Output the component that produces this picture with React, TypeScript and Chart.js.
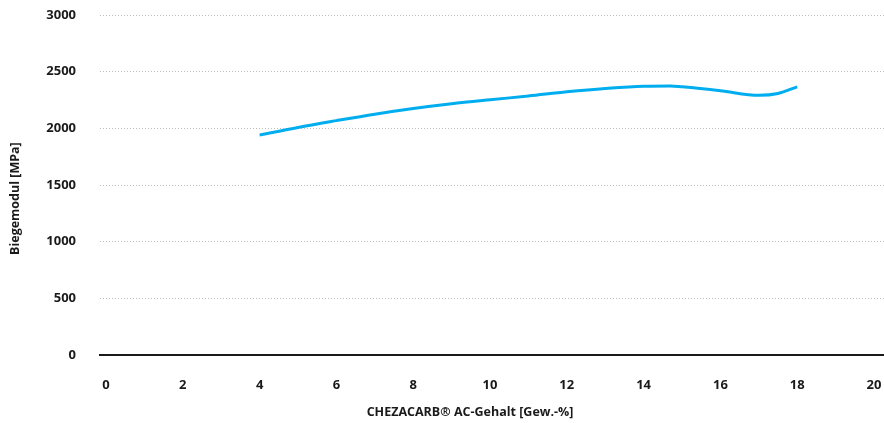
import React, { useEffect, useRef } from "react";
import { Chart, registerables } from "chart.js";

Chart.register(...registerables);

const xValues = [4, 5, 6, 7, 8, 9, 10, 11, 12, 13, 14, 14.7, 15, 16, 17, 17.5, 18];
const yValues = [1940, 2008, 2068, 2125, 2175, 2217, 2252, 2285, 2322, 2352, 2372, 2374, 2366, 2332, 2292, 2308, 2366];
const xTickValues = [0, 2, 4, 6, 8, 10, 12, 14, 16, 18, 20];
const yTickValues = [0, 500, 1000, 1500, 2000, 2500, 3000];
const xTitle = "CHEZACARB® AC-Gehalt [Gew.-%]";
const yTitle = "Biegemodul [MPa]";

const FONT = "'Open Sans', 'DejaVu Sans', sans-serif";

const titlePlugin = {
  id: "customTitles",
  afterDraw(chart: any) {
    const { ctx, chartArea } = chart;
    ctx.save();
    ctx.fillStyle = "#1a1a1a";
    ctx.font = `bold 12.5px ${FONT}`;
    ctx.textAlign = "center";
    ctx.textBaseline = "middle";
    ctx.fillText(xTitle, chartArea.left + (chartArea.right - chartArea.left) * 0.472, 412);
    ctx.translate(15, chartArea.top + (chartArea.bottom - chartArea.top) * 0.54);
    ctx.rotate(-Math.PI / 2);
    ctx.fillText(yTitle, 0, 0);
    ctx.restore();
  },
};

export default function App() {
  const ref = useRef<HTMLCanvasElement>(null);
  useEffect(() => {
    document.body.style.margin = "0";
    const chart = new Chart(ref.current!, {
      type: "line",
      data: {
        datasets: [
          {
            data: xValues.map((x, i) => ({ x, y: yValues[i] })),
            borderColor: "#00aeef",
            borderWidth: 3,
            pointRadius: 0,
            tension: 0.4,
            cubicInterpolationMode: "monotone",
            fill: false,
          },
        ],
      },
      plugins: [titlePlugin],
      options: {
        animation: false,
        responsive: false,
        maintainAspectRatio: false,
        layout: { padding: { top: 15, right: 0, left: 0, bottom: 0 } },
        plugins: { legend: { display: false }, tooltip: { enabled: false } },
        scales: {
          x: {
            type: "linear",
            min: -0.156,
            max: 20.26,
            afterBuildTicks: (scale: any) => {
              scale.ticks = xTickValues.map((v) => ({ value: v }));
            },
            afterFit: (scale: any) => {
              scale.height = 68;
              scale.paddingLeft = 0;
              scale.paddingRight = 0;
            },
            grid: { display: false, drawTicks: false },
            border: { display: true, color: "#1a1a1a", width: 2 },
            ticks: {
              padding: 22,
              color: "#1a1a1a",
              font: { family: FONT, size: 13, weight: "bold" },
              maxRotation: 0,
              autoSkip: false,
              callback: (v: any) => String(v),
            },
          },
          y: {
            type: "linear",
            min: 0,
            max: 3000,
            afterBuildTicks: (scale: any) => {
              scale.ticks = yTickValues.map((v) => ({ value: v }));
            },
            afterFit: (scale: any) => {
              scale.width = 100;
              scale.paddingTop = 0;
              scale.paddingBottom = 0;
            },
            border: { display: false, dash: [1, 2] },
            grid: {
              drawTicks: false,
              color: (c: any) => (c.tick && c.tick.value === 0 ? "rgba(0,0,0,0)" : "#bdbdbd"),
              lineWidth: 1,
            },
            ticks: {
              padding: 24,
              color: "#1a1a1a",
              font: { family: FONT, size: 13, weight: "bold" },
              callback: (v: any) => String(v),
            },
          },
        },
      } as any,
    });
    return () => chart.destroy();
  }, []);
  return (
    <div style={{ position: "fixed", left: 0, top: 0, width: 884, height: 423 }}>
      <canvas ref={ref} width={884} height={423} style={{ width: 884, height: 423 }} />
    </div>
  );
}
